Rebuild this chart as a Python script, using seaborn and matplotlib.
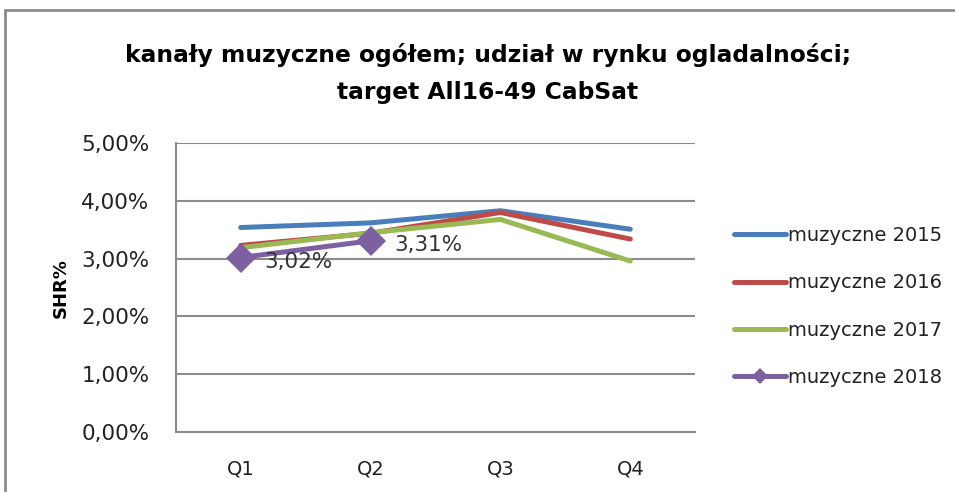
import matplotlib
matplotlib.use('Agg')
import matplotlib.pyplot as plt
import seaborn as sns
import pandas as pd
from matplotlib.lines import Line2D

quarters = ['Q1', 'Q2', 'Q3', 'Q4']
shr_2015 = [3.54, 3.62, 3.83, 3.51]
shr_2016 = [3.23, 3.44, 3.80, 3.34]
shr_2017 = [3.19, 3.45, 3.68, 2.96]
shr_2018 = [3.02, 3.31]
series_names = ['muzyczne 2015', 'muzyczne 2016', 'muzyczne 2017', 'muzyczne 2018']
colors = ['#4A7EBB', '#BE4B48', '#98B954', '#7D60A0']
yticks = [0, 1, 2, 3, 4, 5]

rows = []
for name, vals in zip(series_names, [shr_2015, shr_2016, shr_2017, shr_2018]):
    for i, v in enumerate(vals):
        rows.append({'kw': i, 'quarter': quarters[i], 'shr': v, 'seria': name})
df = pd.DataFrame(rows)

sns.set_style('white')
plt.rcParams['font.family'] = ['DejaVu Sans']
plt.rcParams['text.color'] = '#222222'

fig = plt.figure(figsize=(9.55, 4.92), dpi=100)
ax = fig.add_axes([0.184, 0.122, 0.544, 0.587])

sns.lineplot(data=df[df.seria != 'muzyczne 2018'], x='kw', y='shr', hue='seria',
             palette=colors[:3], linewidth=3.6, ax=ax, legend=False, zorder=3)
d18 = df[df.seria == 'muzyczne 2018']
sns.lineplot(data=d18, x='kw', y='shr', color=colors[3], linewidth=3.6,
             marker='D', markersize=15, markeredgewidth=0, ax=ax, legend=False, zorder=4)

for _, r in d18.iterrows():
    ax.annotate(f"{r.shr:.2f}%".replace('.', ','), (r.kw, r.shr), xytext=(17, -3),
                textcoords='offset points', fontsize=15.5, color='#333333',
                ha='left', va='center', zorder=5)

ax.set_xlim(-0.5, 3.5)
ax.set_ylim(0, 5)
ax.set_xticks(range(4))
ax.set_xticklabels(quarters, fontsize=14)
ax.set_yticks(yticks)
ax.set_yticklabels([f"{t},00%" for t in yticks], fontsize=15.5)
ax.yaxis.grid(True, color='#8C8C8C', linewidth=1.5)
ax.set_axisbelow(True)
for s in ['top', 'right']:
    ax.spines[s].set_visible(False)
for s in ['left', 'bottom']:
    ax.spines[s].set_color('#8C8C8C')
    ax.spines[s].set_linewidth(1.5)
ax.tick_params(axis='y', length=5, color='#8C8C8C', pad=14, labelcolor='#222222')
ax.tick_params(axis='x', length=0, pad=20, labelcolor='#222222')
ax.set_xlabel('')
ax.set_ylabel('SHR%', fontsize=13, fontweight='bold', labelpad=8, color='black')

handles = [Line2D([], [], color=colors[0], lw=3.6),
           Line2D([], [], color=colors[1], lw=3.6),
           Line2D([], [], color=colors[2], lw=3.6),
           Line2D([], [], color=colors[3], lw=3.6, marker='D', markersize=8, markeredgewidth=0)]
fig.legend(handles, series_names, loc='center left', bbox_to_anchor=(0.75, 0.377),
           frameon=False, fontsize=14, handlelength=2.7, handletextpad=0.1,
           labelspacing=1.45)

fig.text(0.511, 0.888, 'kanały muzyczne ogółem; udział w rynku ogladalności;',
         ha='center', va='center', fontsize=16.8, fontweight='bold', color='black')
fig.text(0.511, 0.812, 'target All16-49 CabSat', ha='center', va='center',
         fontsize=16.8, fontweight='bold', color='black')

frame = [Line2D([0.005, 0.005], [0, 0.98], transform=fig.transFigure, color='#8C8C8C', lw=2),
         Line2D([0.005, 1.0], [0.98, 0.98], transform=fig.transFigure, color='#8C8C8C', lw=2)]
for ln in frame:
    fig.add_artist(ln)

fig.savefig('out.png', dpi=100)
